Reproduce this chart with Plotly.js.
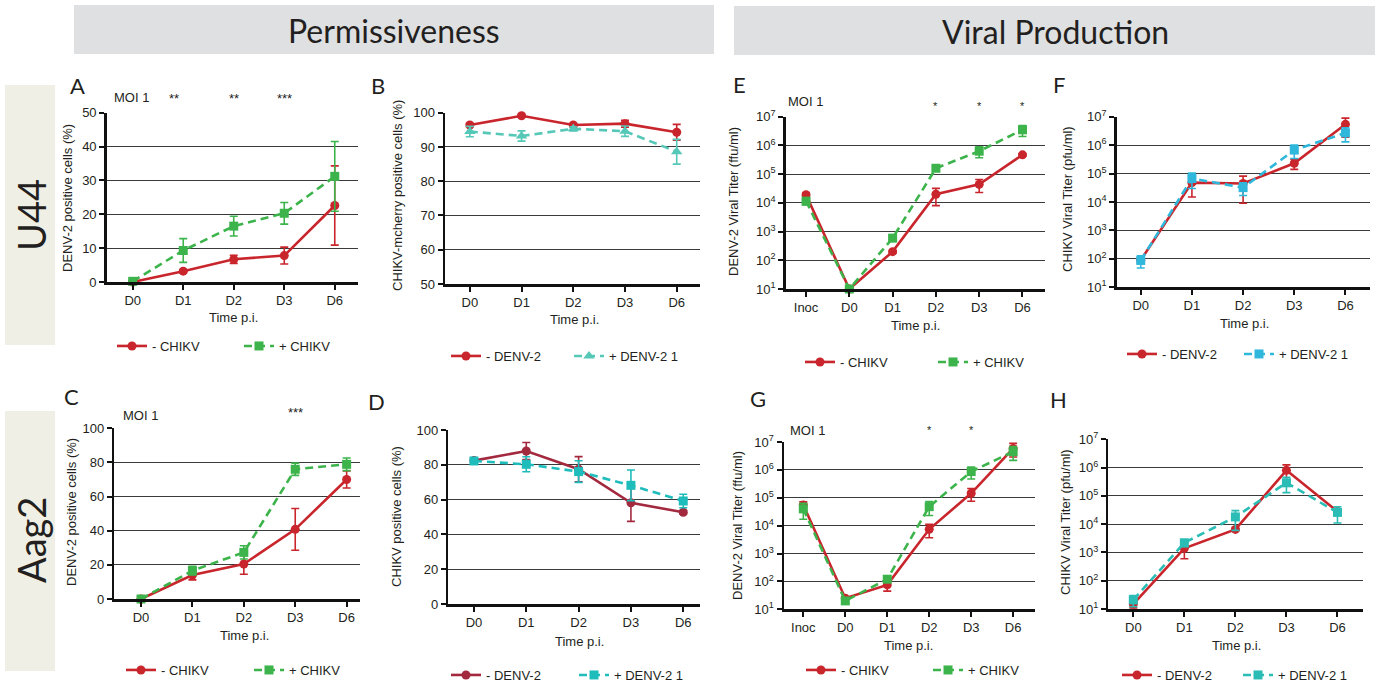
<!DOCTYPE html>
<html><head><meta charset="utf-8">
<script src="https://cdn.plot.ly/plotly-3.0.1.min.js"></script>
<style>html,body{margin:0;padding:0;background:#fff}#chart{width:1379px;height:688px}</style>
</head><body><div id="chart"></div>
<script>
// ---------------- DATA ----------------
const catsP = ['D0','D1','D2','D3','D6'];
const catsV = ['Inoc','D0','D1','D2','D3','D6'];
const logTickVals = [10,100,1000,1e4,1e5,1e6,1e7];
const logTickText = ['10<sup>1</sup>','10<sup>2</sup>','10<sup>3</sup>','10<sup>4</sup>','10<sup>5</sup>','10<sup>6</sup>','10<sup>7</sup>'];

// A: U44 DENV-2 positive cells (%)
const aMinus = [0, 3.2, 6.7, 7.8, 22.6];
const aMinusErr = [0.3, 0.5, 1.2, 2.5, 11.7];
const aPlus = [0.2, 9.3, 16.5, 20.3, 31.2];
const aPlusErr = [0.3, 3.5, 2.9, 3.2, 10.3];
// B: U44 CHIKV-mcherry positive cells (%)
const bMinus = [96.4, 99.1, 96.4, 96.8, 94.3];
const bMinusErr = [0.5, 0.4, 0.5, 1.0, 2.3];
const bPlus = [94.5, 93.2, 95.3, 94.6, 88.6];
const bPlusErr = [1.5, 1.5, 0.6, 1.5, 3.6];
// C: Aag2 DENV-2 positive cells (%)
const cMinus = [0, 14, 20.5, 40.8, 70];
const cMinusErr = [0.3, 2.8, 6, 12.2, 5];
const cPlus = [0, 16.6, 27.3, 76, 78.9];
const cPlusErr = [0.3, 2.5, 3.9, 3.6, 3.7];
// D: Aag2 CHIKV positive cells (%)
const dMinus = [82.4, 87.9, 77.5, 58.2, 52.7];
const dMinusErr = [1, 4.9, 7.2, 10.7, 1];
const dPlus = [82.2, 80.3, 76.1, 68.2, 59.2];
const dPlusErr = [1, 4.3, 6.2, 8.8, 3.9];
// E: U44 DENV-2 viral titer (ffu/ml)
const eMinus = [1.9e4, 10, 200, 2.0e4, 4.4e4, 4.7e5];
const eMinusErr = [4e3, 0, 20, 1.2e4, 2.1e4, 5e4];
const ePlus = [1.15e4, 10, 590, 1.6e5, 6.3e5, 3.5e6];
const ePlusErr = [3e3, 0, 50, 1.5e4, 2.6e5, 1.45e6];
// F: U44 CHIKV viral titer (pfu/ml)
const fMinus = [90, 4.8e4, 4.5e4, 2.3e5, 5.4e6];
const fMinusErr = [20, 3.3e4, 3.6e4, 9e4, 3.5e6];
const fPlus = [88, 6.7e4, 3.2e4, 6.7e5, 2.7e6];
const fPlusErr = [40, 3.7e4, 1.5e4, 3.3e5, 1.4e6];
// G: Aag2 DENV-2 viral titer (ffu/ml)
const gMinus = [5.5e4, 25, 75, 7.4e3, 1.45e5, 5.9e6];
const gMinusErr = [1.7e4, 3, 30, 3.7e3, 7e4, 3e6];
const gPlus = [4e4, 20, 120, 4.8e4, 8.7e5, 4.5e6];
const gPlusErr = [2.3e4, 4, 10, 2.5e4, 4e5, 2.3e6];
// H: Aag2 CHIKV viral titer (pfu/ml)
const hMinus = [15, 1.4e3, 6.5e3, 8e5, 2.8e4];
const hMinusErr = [4, 800, 600, 4.5e5, 5e3];
const hPlus = [21, 2.2e3, 1.8e4, 2.9e5, 2.6e4];
const hPlusErr = [9, 600, 1.2e4, 1.6e5, 1.5e4];

// ---------------- STYLE ----------------
const W = 1379, H = 688;
const FONT = 'Liberation Sans, Arial, sans-serif';
const HFONT = 'Lato, Open Sans, sans-serif';
const TXT = '#231f20';
const RED = '#c9252c', GREEN = '#3cb44b', TEAL_B = '#55c8b8', MAROON = '#a3293f',
      TEAL_D = '#1fbcbc', CYAN = '#2fb8dc', TEAL_H = '#2bbdb5';
const px = v => v / W, py = v => 1 - v / H;

const panels = [
  {id:'A', cats:catsP, x0:106.7, x1:358,  yt:112.7, yb:282,   r:[-0.515,4.46], log:false, yr:[0,50],  dt:10,
   s:[{y:aMinus,e:aMinusErr,n:'- CHIKV',c:RED,sym:'circle',dash:'solid'},{y:aPlus,e:aPlusErr,n:'+ CHIKV',c:GREEN,sym:'square',dash:'8px,5px'}],
   ytitle:'DENV-2 positive cells (%)', ytx:67, yty:198, ttx:233, tty:317, leg:{x:118,y:346,w:125}, lab:[77,85]},
  {id:'B', cats:catsP, x0:445, x1:700,  yt:112.7, yb:284,   r:[-0.48,4.45], log:false, yr:[50,100], dt:10,
   s:[{y:bMinus,e:bMinusErr,n:'- DENV-2',c:RED,sym:'circle',dash:'solid'},{y:bPlus,e:bPlusErr,n:'+ DENV-2 1',c:TEAL_B,sym:'triangle-up',dash:'8px,5px'}],
   ytitle:'CHIKV-mcherry positive cells (%)', ytx:397, yty:196, ttx:574, tty:320, leg:{x:452,y:356,w:121}, lab:[378,85]},
  {id:'E', cats:catsV, x0:785.7, x1:1045, yt:116.7, yb:289, r:[-0.47,5.52], log:true,
   s:[{y:eMinus,e:eMinusErr,n:'- CHIKV',c:RED,sym:'circle',dash:'solid'},{y:ePlus,e:ePlusErr,n:'+ CHIKV',c:GREEN,sym:'square',dash:'8px,5px'}],
   ytitle:'DENV-2 Viral Titer (ffu/ml)', ytx:733, yty:202, ttx:915, tty:326, leg:{x:806,y:362,w:131}, lab:[739,84]},
  {id:'F', cats:catsP, x0:1116.7, x1:1370, yt:116.7, yb:287.3, r:[-0.47,4.48], log:true,
   s:[{y:fMinus,e:fMinusErr,n:'- DENV-2',c:RED,sym:'circle',dash:'solid'},{y:fPlus,e:fPlusErr,n:'+ DENV-2 1',c:CYAN,sym:'square',dash:'8px,5px'}],
   ytitle:'CHIKV Viral Titer (pfu/ml)', ytx:1068, yty:199, ttx:1244, tty:323, leg:{x:1128,y:354,w:115}, lab:[1059,84]},
  {id:'C', cats:catsP, x0:114.3, x1:360, yt:428.3, yb:599,  r:[-0.52,4.26], log:false, yr:[0,100], dt:20,
   s:[{y:cMinus,e:cMinusErr,n:'- CHIKV',c:RED,sym:'circle',dash:'solid'},{y:cPlus,e:cPlusErr,n:'+ CHIKV',c:GREEN,sym:'square',dash:'8px,5px'}],
   ytitle:'DENV-2 positive cells (%)', ytx:71, yty:512, ttx:244, tty:635, leg:{x:127,y:670,w:126}, lab:[71,396]},
  {id:'D', cats:catsP, x0:448.3, x1:700, yt:430, yb:604,    r:[-0.49,4.32], log:false, yr:[0,100], dt:20,
   s:[{y:dMinus,e:dMinusErr,n:'- DENV-2',c:MAROON,sym:'circle',dash:'solid'},{y:dPlus,e:dPlusErr,n:'+ DENV-2 1',c:TEAL_D,sym:'square',dash:'8px,5px'}],
   ytitle:'CHIKV positive cells (%)', ytx:396, yty:517, ttx:579, tty:641, leg:{x:452,y:675,w:126}, lab:[376,401]},
  {id:'G', cats:catsV, x0:784, x1:1035, yt:442, yb:609.3,   r:[-0.46,5.52], log:true,
   s:[{y:gMinus,e:gMinusErr,n:'- CHIKV',c:RED,sym:'circle',dash:'solid'},{y:gPlus,e:gPlusErr,n:'+ CHIKV',c:GREEN,sym:'square',dash:'8px,5px'}],
   ytitle:'DENV-2 Viral Titer (ffu/ml)', ytx:737, yty:525, ttx:908, tty:645, leg:{x:807,y:670,w:125}, lab:[758,398]},
  {id:'H', cats:catsP, x0:1108.3, x1:1363, yt:439.3, yb:609, r:[-0.49,4.5], log:true,
   s:[{y:hMinus,e:hMinusErr,n:'- DENV-2',c:RED,sym:'circle',dash:'solid'},{y:hPlus,e:hPlusErr,n:'+ DENV-2 1',c:TEAL_H,sym:'square',dash:'8px,5px'}],
   ytitle:'CHIKV Viral Titer (pfu/ml)', ytx:1065, yty:522, ttx:1236, tty:645, leg:{x:1123,y:675,w:119}, lab:[1058,399]}
];

const traces = [];
const layout = {
  width: W, height: H, margin:{l:0,r:0,t:0,b:0,autoexpand:false},
  paper_bgcolor:'#fff', plot_bgcolor:'rgba(0,0,0,0)',
  font:{family:FONT, color:TXT, size:13},
  shapes: [], annotations: [], showlegend: true
};

const txt = (x, y, t, sz, fam, ang) => layout.annotations.push({xref:'paper', yref:'paper', x:px(x), y:py(y), text:t,
  textangle:ang||0, showarrow:false, font:{size:sz, family:fam||FONT, color:TXT}, xanchor:'center', yanchor:'middle'});

panels.forEach((p, i) => {
  const n = i + 1;
  const sfx = n === 1 ? '' : String(n);
  const xa = 'x' + sfx, ya = 'y' + sfx, lg = 'legend' + sfx;
  p.s.forEach(s => {
    traces.push({
      type:'scatter', mode:'lines+markers', x:p.cats, y:s.y, name:s.n,
      xaxis:xa, yaxis:ya, legend:lg, cliponaxis:false,
      line:{color:s.c, width:2.6, dash:s.dash},
      marker:{color:s.c, symbol:s.sym, size: s.sym==='triangle-up'?10:9},
      error_y:{type:'data', array:s.e, visible:true, color:s.c, thickness:1.6, width:4}
    });
  });
  layout['xaxis' + sfx] = {
    domain:[px(p.x0), px(p.x1)], anchor:ya, type:'category', categoryorder:'array', categoryarray:p.cats,
    range:p.r, showline:true, linewidth:2.5, linecolor:'#111', ticks:'outside', ticklen:5, tickwidth:2,
    tickcolor:'#111', showgrid:false, zeroline:false, tickfont:{size:13, family:FONT, color:TXT}, fixedrange:true
  };
  const yax = {
    domain:[py(p.yb), py(p.yt)], anchor:xa, showline:true, linewidth:2.5, linecolor:'#111',
    ticks:'outside', ticklen:5, tickwidth:2, tickcolor:'#111', showgrid:true, gridcolor:'#3a3a3a', gridwidth:1,
    zeroline:false, tickfont:{size:13, family:FONT, color:TXT}, fixedrange:true
  };
  if (p.log) {
    Object.assign(yax, {type:'log', range:[1,7], tickmode:'array', tickvals:logTickVals, ticktext:logTickText});
  } else {
    Object.assign(yax, {type:'linear', range:p.yr, dtick:p.dt, tick0:0});
  }
  layout['yaxis' + sfx] = yax;
  layout[lg] = {
    x:px(p.leg.x - 6), y:py(p.leg.y), xanchor:'left', yanchor:'middle', orientation:'h',
    font:{size:13, family:FONT, color:TXT}, entrywidth:p.leg.w - 43, entrywidthmode:'pixels',
    bgcolor:'rgba(0,0,0,0)', itemwidth:30, traceorder:'normal'
  };
  txt(p.ytx, p.yty, p.ytitle, 13, FONT, -90);
  txt(p.ttx, p.tty, 'Time p.i.', 13);
  txt(p.lab[0], p.lab[1], p.id, 22, HFONT);
});

// MOI and significance labels
const star = (xref, x, y, t, sz) => layout.annotations.push({xref:xref, yref:'paper', x:x, y:py(y), text:t, showarrow:false,
  font:{size:sz||13, family:FONT, color:TXT}, xanchor:'center', yanchor:'middle'});
txt(131, 97, 'MOI 1', 13);
star('x', 0.82, 98, '**'); star('x', 2, 98, '**'); star('x', 3, 98, '***');
txt(805, 101, 'MOI 1', 13);
star('x3', 3, 106, '*', 11); star('x3', 4, 106, '*', 11); star('x3', 5, 106, '*', 11);
txt(140, 415, 'MOI 1', 13);
star('x5', 3, 413, '***');
txt(808, 430, 'MOI 1', 13);
star('x7', 3, 430, '*', 11); star('x7', 4, 430, '*', 11);

// header boxes and row labels
const rect = (x0,y0,x1,y1,c) => layout.shapes.push({type:'rect', xref:'paper', yref:'paper', x0:px(x0), x1:px(x1), y0:py(y1), y1:py(y0),
  fillcolor:c, line:{width:0}, layer:'below'});
rect(74, 5, 714, 54, '#dfe0e2');
rect(734, 6, 1375, 55, '#dfe0e2');
rect(5, 85, 55, 345, '#f0efe6');
rect(5, 411, 55, 671, '#f0efe6');
txt(394, 31, 'Permissiveness', 32, HFONT);
txt(1055, 32, 'Viral Production', 32, HFONT);
txt(31, 215, 'U44', 38, HFONT, -90);
txt(31, 540, 'Aag2', 38, HFONT, -90);

Plotly.newPlot('chart', traces, layout, {staticPlot:true, displayModeBar:false});
</script></body></html>
